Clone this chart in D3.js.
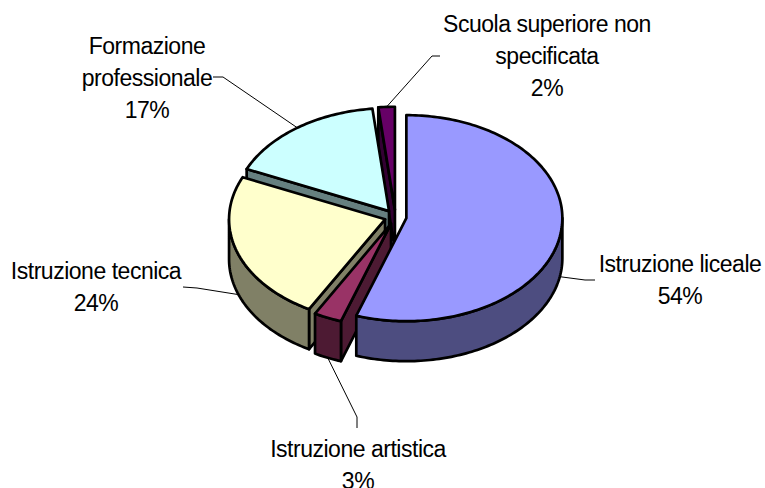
<!DOCTYPE html>
<html>
<head>
<meta charset="utf-8">
<script src="https://cdn.jsdelivr.net/npm/d3@7"></script>
<style>
    html, body { margin: 0; background: #fff; overflow: hidden; }
    text { font-family: "Liberation Sans", Arial, sans-serif; font-size: 23px; letter-spacing: -0.48px; fill: #000; }
</style>
</head>
<body>
<div id="container"></div>
<script>
const categories = ["Istruzione liceale", "Istruzione artistica", "Istruzione tecnica", "Formazione professionale", "Scuola superiore non specificata"];
const percentLabels = ["54%", "3%", "24%", "17%", "2%"];
// shares as drawn in the picture (slightly off the rounded labels)
const shares = [55.2, 2.9, 23.6, 16.6, 1.7];
const topColors = ["#9999ff", "#993366", "#ffffcc", "#ccffff", "#660066"];
const wallColors = ["#4d4d80", "#4d1a33", "#808066", "#668080", "#330033"];
const labelLines = [
    ["Istruzione liceale"],
    ["Istruzione artistica"],
    ["Istruzione tecnica"],
    ["Formazione", "professionale"],
    ["Scuola superiore non", "specificata"]
];
const labelPos = [[680, 272], [358, 457], [96, 279], [147, 54], [547, 32]];
// elbow of each leader line, and where it stops near the label
const leaderPos = [[[585, 280], [595, 280]], [[357, 417], [357, 428]], [[197, 288], [183, 287]], [[223, 77], [213, 77]], [[432, 56], [440, 56]]];
const leaderAt = [0.505, 0.5, 0.48, 0.5, 0.5];

const width = 765, height = 488;
const cx = 395.5, cy = 217, rx = 156, ry = 103, depth = 40, explode = 11, lineGap = 32;

const svg = d3.select("#container").append("svg")
    .attr("width", width)
    .attr("height", height);

const pie = d3.pie().sort(null)(shares);

const line = d3.line();

function rim(c, t) {
    return [c[0] + rx * Math.sin(t), c[1] - ry * Math.cos(t)];
}

function arcPts(c, a, b, dy) {
    let n = Math.max(2, Math.ceil(Math.abs(b - a) / 0.02));
    return d3.range(n + 1).map(i => {
        let p = rim(c, a + (b - a) * i / n);
        return [p[0], p[1] + dy];
    });
}

const slices = pie.map((d, i) => {
    let mid = (d.startAngle + d.endAngle) / 2;
    return {
        i: i,
        a0: d.startAngle,
        a1: d.endAngle,
        c: [cx + explode * Math.sin(mid), cy - explode * (ry / rx) * Math.cos(mid)]
    };
});

function addFace(pts, col) {
    svg.append("path")
        .attr("d", line(pts) + "Z")
        .attr("fill", col)
        .attr("stroke", "#000")
        .attr("stroke-width", 2.7)
        .attr("stroke-linejoin", "round");
}

// leader lines sit under the pie
slices.forEach(s => {
    let t = s.a0 + (s.a1 - s.a0) * leaderAt[s.i];
    let start = rim(s.c, t);
    if (Math.cos(t) < 0) start[1] += depth;
    svg.append("path")
        .attr("d", line([start].concat(leaderPos[s.i])))
        .attr("fill", "none")
        .attr("stroke", "#000")
        .attr("stroke-width", 1);
});

// back to front, blue top goes last because it covers the dark cut face
[4, 3, 2, 1, 0].forEach(k => {
    let s = slices[k];

    // cut face on the start side shows when it turns to the viewer
    if (Math.sin(s.a0) < -0.001) {
        let p = rim(s.c, s.a0);
        addFace([s.c, p, [p[0], p[1] + depth], [s.c[0], s.c[1] + depth]], wallColors[k]);
    }

    // outer wall, front half of the ellipse only
    let w0 = Math.max(s.a0, Math.PI / 2), w1 = Math.min(s.a1, Math.PI * 1.5);
    if (w1 > w0) {
        addFace(arcPts(s.c, w0, w1, 0).concat(arcPts(s.c, w1, w0, depth)), wallColors[k]);
    }

    addFace([s.c].concat(arcPts(s.c, s.a0, s.a1, 0)), topColors[k]);
});

labelLines.forEach((lines, i) => {
    let t = svg.append("text").attr("text-anchor", "middle");
    lines.concat(percentLabels[i]).forEach((l, j) => {
        t.append("tspan")
            .attr("x", labelPos[i][0])
            .attr("y", labelPos[i][1] + j * lineGap)
            .text(l);
    });
});
</script>
</body>
</html>
